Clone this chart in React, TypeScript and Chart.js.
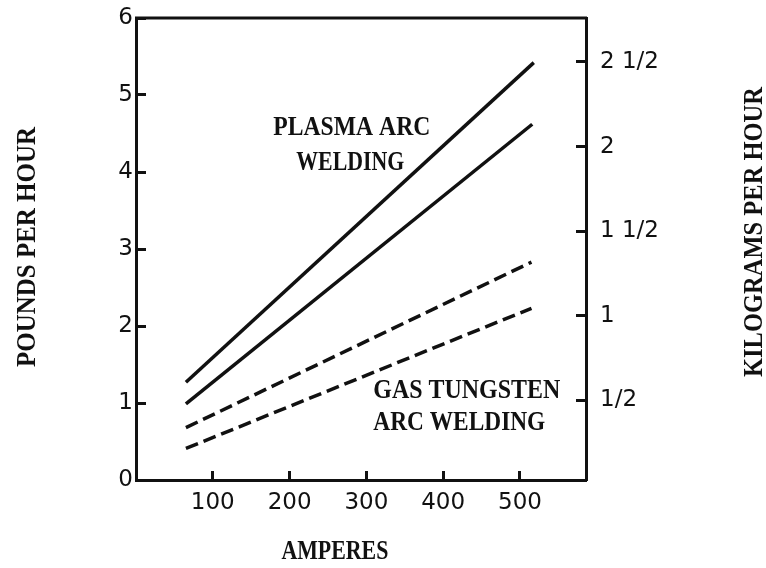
import React, { useEffect, useRef } from "react";
import { Chart, registerables } from "chart.js";

Chart.register(...registerables);

// ---- data ----
const ampTicks = [100, 200, 300, 400, 500];
const lbTicks = [0, 1, 2, 3, 4, 5, 6];
const kgTicks = [0.5, 1, 1.5, 2, 2.5];
const kgTickLabels = ["1/2", "1", "1 1/2", "2", "2 1/2"];

const plasmaUpperAmps = [65, 518];
const plasmaUpperLbs = [1.27, 5.42];
const plasmaLowerAmps = [65, 516];
const plasmaLowerLbs = [0.99, 4.62];
const gtawUpperAmps = [65, 515];
const gtawUpperLbs = [0.68, 2.83];
const gtawLowerAmps = [65, 515];
const gtawLowerLbs = [0.41, 2.23];

// kg axis range
const KG_MIN = 0.03;
const KG_MAX = 2.76;
const AMP_MAX = 586;
const LB_MAX = 6;

const INK = "#111111";
const SERIF = '"Liberation Serif", "DejaVu Serif", serif';
const SANS = '"DejaVu Sans", sans-serif';
const STRETCH = 1.06;
const TEXT_SIZE = 26;

const pairs = (xs: number[], ys: number[]) => xs.map((x, i) => ({ x, y: ys[i] }));

// draws text condensed to a given width (typewriter-like lettering)
function drawText(ctx: any, text: string, x: number, y: number, align: string, width: number, rotate = 0) {
  ctx.save();
  ctx.font = `bold ${TEXT_SIZE}px ${SERIF}`;
  const w = ctx.measureText(text).width;
  ctx.translate(x, y);
  if (rotate) ctx.rotate(rotate);
  ctx.scale(width / w, STRETCH);
  ctx.textAlign = align;
  ctx.textBaseline = "middle";
  ctx.fillText(text, 0, 0);
  ctx.restore();
}

const textPlugin = {
  id: "textPlugin",
  afterDraw(chart: any) {
    const { ctx, chartArea, scales } = chart;
    const xs = scales.x;
    const ys = scales.y;
    ctx.save();
    // top frame line
    ctx.strokeStyle = INK;
    ctx.lineWidth = 3;
    ctx.beginPath();
    ctx.moveTo(chartArea.left - 1, chartArea.top);
    ctx.lineTo(chartArea.right + 1, chartArea.top);
    ctx.stroke();

    ctx.fillStyle = INK;
    drawText(ctx, "PLASMA ARC", xs.getPixelForValue(281), ys.getPixelForValue(4.57), "center", 157);
    drawText(ctx, "WELDING", xs.getPixelForValue(279), ys.getPixelForValue(4.12), "center", 108);
    drawText(ctx, "GAS TUNGSTEN", xs.getPixelForValue(309), ys.getPixelForValue(1.16), "left", 187);
    drawText(ctx, "ARC WELDING", xs.getPixelForValue(309), ys.getPixelForValue(0.74), "left", 172);

    const midY = (chartArea.top + chartArea.bottom) / 2;
    // axis titles
    drawText(ctx, "AMPERES", xs.getPixelForValue(259), chartArea.bottom + 72, "center", 107);
    drawText(ctx, "POUNDS PER HOUR", 28, midY - 2, "center", 240, -Math.PI / 2);
    drawText(ctx, "KILOGRAMS PER HOUR", chart.width - 11, midY - 17, "center", 290, -Math.PI / 2);
    ctx.restore();
  },
};

export default function App() {
  const canvasRef = useRef<HTMLCanvasElement | null>(null);

  useEffect(() => {
    if (!canvasRef.current) return;
    const lineCommon = {
      borderColor: INK,
      borderWidth: 3.5,
      pointRadius: 0,
      fill: false,
      tension: 0,
      borderCapStyle: "butt" as const,
    };
    const noPad = (s: any) => {
      s.paddingTop = 0;
      s.paddingBottom = 0;
      s.paddingLeft = 0;
      s.paddingRight = 0;
    };
    const chart = new Chart(canvasRef.current, {
      type: "line",
      data: {
        datasets: [
          { ...lineCommon, label: "Plasma arc welding (upper)", data: pairs(plasmaUpperAmps, plasmaUpperLbs) },
          { ...lineCommon, label: "Plasma arc welding (lower)", data: pairs(plasmaLowerAmps, plasmaLowerLbs) },
          { ...lineCommon, label: "Gas tungsten arc welding (upper)", data: pairs(gtawUpperAmps, gtawUpperLbs), borderDash: [13, 6] },
          { ...lineCommon, label: "Gas tungsten arc welding (lower)", data: pairs(gtawLowerAmps, gtawLowerLbs), borderDash: [13, 6] },
        ],
      },
      options: {
        animation: false,
        responsive: false,
        maintainAspectRatio: false,
        layout: { padding: { top: 18, left: 0, right: 0, bottom: 0 } },
        plugins: { legend: { display: false }, tooltip: { enabled: false } },
        scales: {
          x: {
            type: "linear",
            min: 0,
            max: AMP_MAX,
            afterBuildTicks: (s: any) => {
              s.ticks = ampTicks.map((v) => ({ value: v }));
            },
            afterFit: (s: any) => {
              s.height = 88;
              noPad(s);
            },
            grid: { drawOnChartArea: false, drawTicks: true, tickLength: -9, tickWidth: 3, tickColor: INK },
            border: { display: true, color: INK, width: 3 },
            ticks: { color: INK, font: { family: SANS, size: 23 }, padding: 18, maxRotation: 0 },
          },
          y: {
            type: "linear",
            position: "left",
            min: 0,
            max: LB_MAX,
            afterBuildTicks: (s: any) => {
              s.ticks = lbTicks.map((v) => ({ value: v }));
            },
            afterFit: (s: any) => {
              s.width = 136;
              noPad(s);
            },
            grid: { drawOnChartArea: false, drawTicks: true, tickLength: -10, tickWidth: 3, tickColor: INK },
            border: { display: true, color: INK, width: 3 },
            ticks: { color: INK, font: { family: SANS, size: 23 }, padding: 13 },
          },
          y2: {
            type: "linear",
            position: "right",
            min: KG_MIN,
            max: KG_MAX,
            afterBuildTicks: (s: any) => {
              s.ticks = kgTicks.map((v) => ({ value: v }));
            },
            afterFit: (s: any) => {
              s.width = 180;
              noPad(s);
            },
            grid: { drawOnChartArea: false, drawTicks: true, tickLength: -10, tickWidth: 3, tickColor: INK },
            border: { display: true, color: INK, width: 3 },
            ticks: {
              color: INK,
              font: { family: SANS, size: 23 },
              padding: 24,
              callback: (v: any) => {
                const i = kgTicks.indexOf(Number(v));
                return i >= 0 ? kgTickLabels[i] : "";
              },
            },
          },
        },
      },
      plugins: [textPlugin],
    });
    return () => chart.destroy();
  }, []);

  return (
    <div style={{ position: "fixed", left: 0, top: 0, width: 766, height: 568, background: "#fff" }}>
      <canvas ref={canvasRef} width={766} height={568} style={{ width: 766, height: 568, display: "block" }} />
    </div>
  );
}
